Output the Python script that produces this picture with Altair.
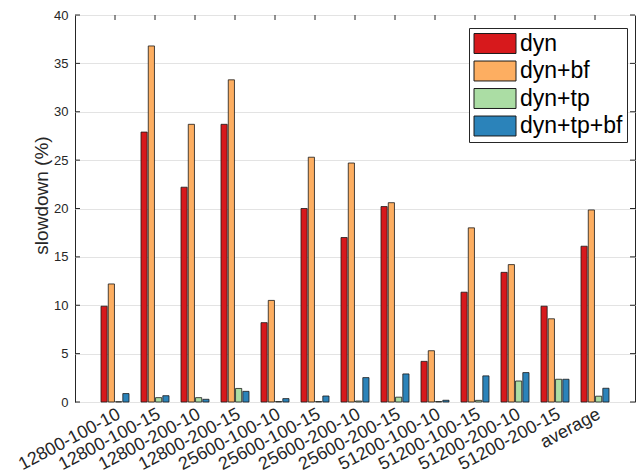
import altair as alt
import pandas as pd

# Benchmark configurations (problem size - block - depth) plus the overall average
groups = [
    "12800-100-10", "12800-100-15", "12800-200-10", "12800-200-15",
    "25600-100-10", "25600-100-15", "25600-200-10", "25600-200-15",
    "51200-100-10", "51200-100-15", "51200-200-10", "51200-200-15",
    "average",
]
series = ["dyn", "dyn+bf", "dyn+tp", "dyn+tp+bf"]
colors = ["#d7191c", "#fdae61", "#abdda4", "#2b83ba"]

# Slowdown (%) per configuration for each variant
dyn = [9.9, 27.9, 22.2, 28.7, 8.2, 20.0, 17.0, 20.2, 4.2, 11.35, 13.4, 9.9, 16.1]
dyn_bf = [12.2, 36.8, 28.7, 33.3, 10.5, 25.3, 24.7, 20.6, 5.3, 18.0, 14.2, 8.6, 19.85]
dyn_tp = [0.03, 0.45, 0.45, 1.4, 0.05, 0.05, 0.1, 0.5, 0.05, 0.17, 2.17, 2.35, 0.6]
dyn_tp_bf = [0.87, 0.65, 0.28, 1.1, 0.35, 0.62, 2.52, 2.9, 0.18, 2.7, 3.04, 2.35, 1.42]

y_ticks = [0, 5, 10, 15, 20, 25, 30, 35, 40]

W, H = 560, 387
TICK = 5
FONT = "Liberation Sans"

rows = []
for name, vals in zip(series, [dyn, dyn_bf, dyn_tp, dyn_tp_bf]):
    for g, v in zip(groups, vals):
        rows.append({"group": g, "series": name, "slowdown": v})
df = pd.DataFrame(rows)
ticks_df = pd.DataFrame({"t": y_ticks})
groups_df = pd.DataFrame({"group": groups})

x_scale = alt.Scale(domain=groups, paddingInner=0.3, paddingOuter=0.65)
y_scale = alt.Scale(domain=[0, 40], nice=False)

# rectangular legend swatch, left edge at the symbol origin
swatch = "M-1,-0.95L3,-0.95L3,0.95L-1,0.95Z"

bars = alt.Chart(df).mark_bar(stroke="#1a1a1a", strokeWidth=0.8).encode(
    x=alt.X(
        "group:N",
        scale=x_scale,
        sort=groups,
        axis=alt.Axis(
            title=None,
            labelAngle=-28,
            labelAlign="right",
            labelBaseline="top",
            labelPadding=3,
            labelFontSize=18,
            ticks=False,
            domain=False,
        ),
    ),
    xOffset=alt.XOffset("series:N", sort=series, scale=alt.Scale(domain=series, paddingInner=0.15)),
    y=alt.Y(
        "slowdown:Q",
        scale=y_scale,
        axis=alt.Axis(
            title="slowdown (%)",
            values=y_ticks,
            ticks=False,
            domain=False,
            labelPadding=7,
            labelFontSize=13,
            titleFontSize=19,
            titleFontWeight="normal",
            titleX=-24,
            titleY=180,
            grid=True,
            gridColor="#e3e3e3",
        ),
    ),
    color=alt.Color(
        "series:N",
        sort=series,
        scale=alt.Scale(domain=series, range=colors),
        legend=alt.Legend(
            title=None,
            orient="none",
            legendX=394,
            legendY=13,
            symbolType=swatch,
            symbolSize=441,
            symbolStrokeColor="#1a1a1a",
            symbolStrokeWidth=1,
            symbolOpacity=1,
            labelFontSize=23,
            labelOffset=24,
            labelColor="#000000",
            rowPadding=2.5,
            padding=4,
            strokeColor="#262626",
            fillColor="white",
        ),
    ),
)

# inward-pointing ticks on all four sides of the box
left_ticks = alt.Chart(ticks_df).mark_rule(color="#262626", strokeWidth=1).encode(
    y=alt.Y("t:Q", scale=y_scale), x=alt.value(0), x2=alt.value(TICK)
)
right_ticks = alt.Chart(ticks_df).mark_rule(color="#262626", strokeWidth=1).encode(
    y=alt.Y("t:Q", scale=y_scale), x=alt.value(W - TICK), x2=alt.value(W)
)
top_ticks = alt.Chart(groups_df).mark_rule(color="#262626", strokeWidth=1).encode(
    x=alt.X("group:N", scale=x_scale, sort=groups), y=alt.value(0), y2=alt.value(TICK)
)

chart = (
    alt.layer(bars, left_ticks, right_ticks, top_ticks)
    .properties(
        width=W,
        height=H,
        autosize=alt.AutoSizeParams(type="none"),
        padding={"left": 75, "top": 15, "right": 2, "bottom": 73},
    )
    .configure(font=FONT)
    .configure_view(stroke="#262626", strokeWidth=1)
    .configure_axis(labelColor="#262626", titleColor="#262626", labelFont=FONT, titleFont=FONT)
    .configure_legend(labelFont=FONT)
)

chart.save("out.html", embed_options={"renderer": "svg", "actions": False})
